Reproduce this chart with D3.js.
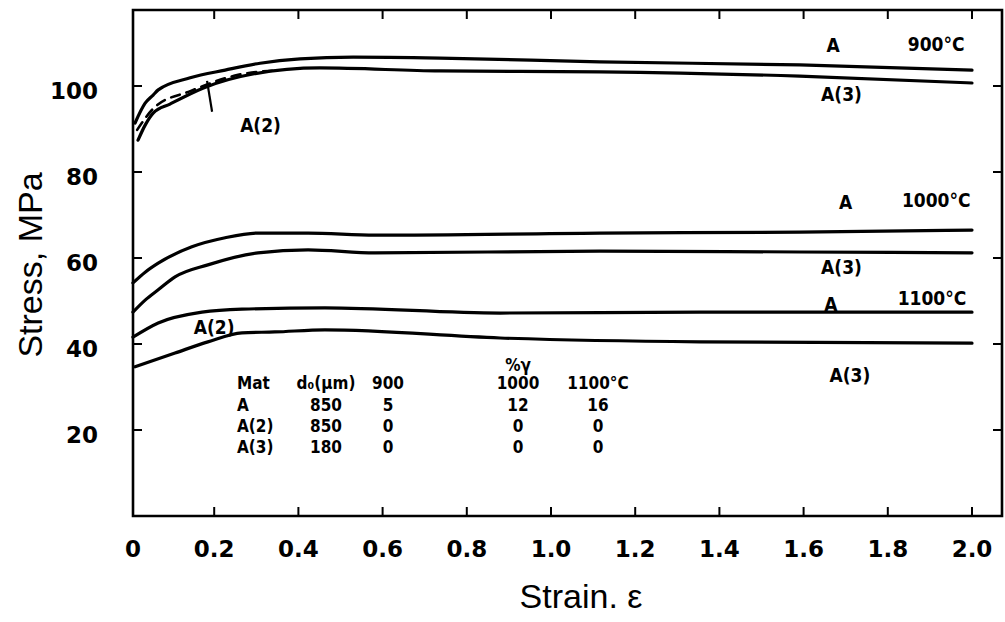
<!DOCTYPE html>
<html>
<head>
<meta charset="utf-8">
<script src="https://cdn.jsdelivr.net/npm/d3@7"></script>
<style>
  html, body { margin: 0; padding: 0; background: #fff; }
  svg { display: block; }
</style>
</head>
<body>
<svg id="chart" width="1005" height="622"></svg>
<script>
// ---------- data (strain, stress MPa) ----------
const xTickValues = [0, 0.2, 0.4, 0.6, 0.8, 1.0, 1.2, 1.4, 1.6, 1.8, 2.0];
const xTickLabels = ["0", "0.2", "0.4", "0.6", "0.8", "1.0", "1.2", "1.4", "1.6", "1.8", "2.0"];
const yTickValues = [20, 40, 60, 80, 100];
const yTickLabels = ["20", "40", "60", "80", "100"];

const strain900A = [0.012, 0.036, 0.055, 0.067, 0.143, 0.226, 0.309, 0.404, 0.530, 0.736, 1.116, 1.591, 2.0];
const stress900A = [91.4, 96.0, 97.9, 99.1, 101.9, 103.7, 105.3, 106.3, 106.7, 106.5, 105.6, 104.9, 103.7];

const strain900A3 = [0.019, 0.036, 0.055, 0.095, 0.173, 0.292, 0.451, 0.736, 1.116, 1.591, 2.0];
const stress900A3 = [87.4, 90.9, 93.7, 95.8, 99.5, 102.8, 104.2, 103.5, 103.3, 102.3, 100.7];

const strain900A2 = [0.017, 0.059, 0.143, 0.257, 0.344];
const stress900A2 = [89.8, 95.1, 98.8, 102.6, 103.6];

const strain1000A = [0.007, 0.036, 0.067, 0.147, 0.226, 0.304, 0.423, 0.582, 1.116, 1.591, 2.0];
const stress1000A = [54.2, 56.7, 58.8, 62.6, 64.7, 65.8, 65.8, 65.3, 65.8, 66.0, 66.5];

const strain1000A3 = [0.007, 0.036, 0.067, 0.107, 0.185, 0.304, 0.423, 0.582, 1.116, 1.591, 2.0];
const stress1000A3 = [47.4, 50.2, 52.6, 55.6, 58.4, 61.2, 61.9, 61.2, 61.6, 61.4, 61.2];

const strain1100A = [0.007, 0.067, 0.171, 0.266, 0.463, 0.879, 1.354, 2.0];
const stress1100A = [41.6, 44.9, 47.4, 48.1, 48.4, 47.2, 47.4, 47.4];

const strain1100A3 = [0.012, 0.107, 0.185, 0.266, 0.344, 0.463, 0.879, 1.354, 2.0];
const stress1100A3 = [34.7, 37.9, 40.5, 42.6, 42.8, 43.3, 41.4, 40.5, 40.2];

// inset table
const tableHeader = ["Mat", "d\u2080(\u03bcm)", "900", "1000", "1100\u00b0C"];
const tableRows = [
  ["A", "850", "5", "12", "16"],
  ["A(2)", "850", "0", "0", "0"],
  ["A(3)", "180", "0", "0", "0"]
];

// curve end labels: [text, strain, stress]
const curveLabels = [
  ["A", 1.67, 109.2], ["900\u00b0C", 1.915, 109.4], ["A(3)", 1.69, 97.8],
  ["A", 1.70, 72.6], ["1000\u00b0C", 1.915, 73.2], ["A(3)", 1.69, 57.6],
  ["A", 1.665, 49.0], ["1100\u00b0C", 1.905, 50.3], ["A(3)", 1.71, 32.4]
];

// ---------- layout ----------
const svg = d3.select("#chart");
const x = d3.scaleLinear().domain([0, 2.0]).range([130, 972]);
const y = d3.scaleLinear().domain([0, 100]).range([516, 86]);
const frame = { left: 133, right: 1002, top: 10, bottom: 516 };

const labelFont = "'Liberation Sans Narrow', 'DejaVu Sans Condensed', 'Arial Narrow', sans-serif";

// frame
svg.append("path")
  .attr("d", `M${frame.left},${frame.top} L${frame.right},${frame.top} L${frame.right},${frame.bottom} L${frame.left},${frame.bottom} Z`)
  .attr("fill", "none").attr("stroke", "#000").attr("stroke-width", 2.6);

// ticks
const tickLen = 9;
svg.append("g").selectAll("line.bt").data(xTickValues.slice(1)).join("line")
  .attr("x1", d => x(d)).attr("x2", d => x(d))
  .attr("y1", frame.bottom).attr("y2", frame.bottom - tickLen)
  .attr("stroke", "#000").attr("stroke-width", 2);
svg.append("g").selectAll("line.tt").data(xTickValues.slice(1)).join("line")
  .attr("x1", d => x(d)).attr("x2", d => x(d))
  .attr("y1", frame.top).attr("y2", frame.top + tickLen)
  .attr("stroke", "#000").attr("stroke-width", 2);
svg.append("g").selectAll("line.lt").data(yTickValues).join("line")
  .attr("x1", frame.left).attr("x2", frame.left + tickLen)
  .attr("y1", d => y(d)).attr("y2", d => y(d))
  .attr("stroke", "#000").attr("stroke-width", 2);
svg.append("g").selectAll("line.rt").data(yTickValues).join("line")
  .attr("x1", frame.right).attr("x2", frame.right - tickLen)
  .attr("y1", d => y(d)).attr("y2", d => y(d))
  .attr("stroke", "#000").attr("stroke-width", 2);

// tick labels
svg.append("g").selectAll("text").data(xTickValues).join("text")
  .attr("x", d => x(d) + (d === 0 ? 3 : 0)).attr("y", 557)
  .attr("text-anchor", "middle")
  .attr("font-family", "'DejaVu Sans', sans-serif").attr("font-size", 23).attr("font-weight", "bold")
  .text((d, i) => xTickLabels[i]);
svg.append("g").selectAll("text").data(yTickValues).join("text")
  .attr("x", 98).attr("y", d => y(d) + 6)
  .attr("text-anchor", "end").attr("dominant-baseline", "middle")
  .attr("font-family", "'DejaVu Sans', sans-serif").attr("font-size", 23).attr("font-weight", "bold")
  .text((d, i) => yTickLabels[i]);

// axis titles
svg.append("text")
  .attr("x", 581).attr("y", 608).attr("text-anchor", "middle")
  .attr("font-family", "'Liberation Sans', Arial, sans-serif").attr("font-size", 34)
  .text("Strain. \u03b5");
svg.append("text")
  .attr("transform", "translate(42,265) rotate(-90)").attr("text-anchor", "middle")
  .attr("font-family", "'Liberation Sans', Arial, sans-serif").attr("font-size", 34)
  .text("Stress, MPa");

// curves
const line = d3.line().x(d => x(d[0])).y(d => y(d[1])).curve(d3.curveMonotoneX);
const series = [
  [strain900A, stress900A, false],
  [strain900A3, stress900A3, false],
  [strain1000A, stress1000A, false],
  [strain1000A3, stress1000A3, false],
  [strain1100A, stress1100A, false],
  [strain1100A3, stress1100A3, false],
  [strain900A2, stress900A2, true]
];
series.forEach(([sx, sy, dashed]) => {
  svg.append("path")
    .attr("d", line(sx.map((v, i) => [v, sy[i]])))
    .attr("fill", "none").attr("stroke", "#000")
    .attr("stroke-width", dashed ? 2.6 : 3.2)
    .attr("stroke-dasharray", dashed ? "9,7" : null)
    .attr("stroke-linecap", "round");
});

// A(2) leader at 900 C
svg.append("line")
  .attr("x1", x(0.183)).attr("y1", y(101.2))
  .attr("x2", x(0.195)).attr("y2", y(94.0))
  .attr("stroke", "#000").attr("stroke-width", 2.2);
svg.append("text")
  .attr("x", x(0.31)).attr("y", y(90.5)).attr("text-anchor", "middle").attr("dominant-baseline", "middle")
  .attr("font-family", labelFont).attr("font-size", 19).attr("font-weight", "bold")
  .text("A(2)");
// A(2) at 1100 C
svg.append("text")
  .attr("x", x(0.2)).attr("y", y(43.6)).attr("text-anchor", "middle").attr("dominant-baseline", "middle")
  .attr("font-family", labelFont).attr("font-size", 19).attr("font-weight", "bold")
  .text("A(2)");

// curve labels
svg.append("g").selectAll("text").data(curveLabels).join("text")
  .attr("x", d => x(d[1])).attr("y", d => y(d[2]))
  .attr("text-anchor", "middle").attr("dominant-baseline", "middle")
  .attr("font-family", labelFont).attr("font-size", 19).attr("font-weight", "bold")
  .text(d => d[0]);

// inset table
const colX = [237, 326, 388, 518, 598];
const colAnchor = ["start", "middle", "middle", "middle", "middle"];
const rowY = [384, 406, 427, 448];
const tg = svg.append("g")
  .attr("font-family", labelFont).attr("font-size", 17).attr("font-weight", "bold");
tg.append("text").attr("x", 518).attr("y", 366).attr("text-anchor", "middle")
  .attr("dominant-baseline", "middle").text("%\u03b3");
[tableHeader].concat(tableRows).forEach((row, r) => {
  row.forEach((cell, c) => {
    tg.append("text")
      .attr("x", colX[c]).attr("y", rowY[r])
      .attr("text-anchor", colAnchor[c]).attr("dominant-baseline", "middle")
      .text(cell);
  });
});
</script>
</body>
</html>
